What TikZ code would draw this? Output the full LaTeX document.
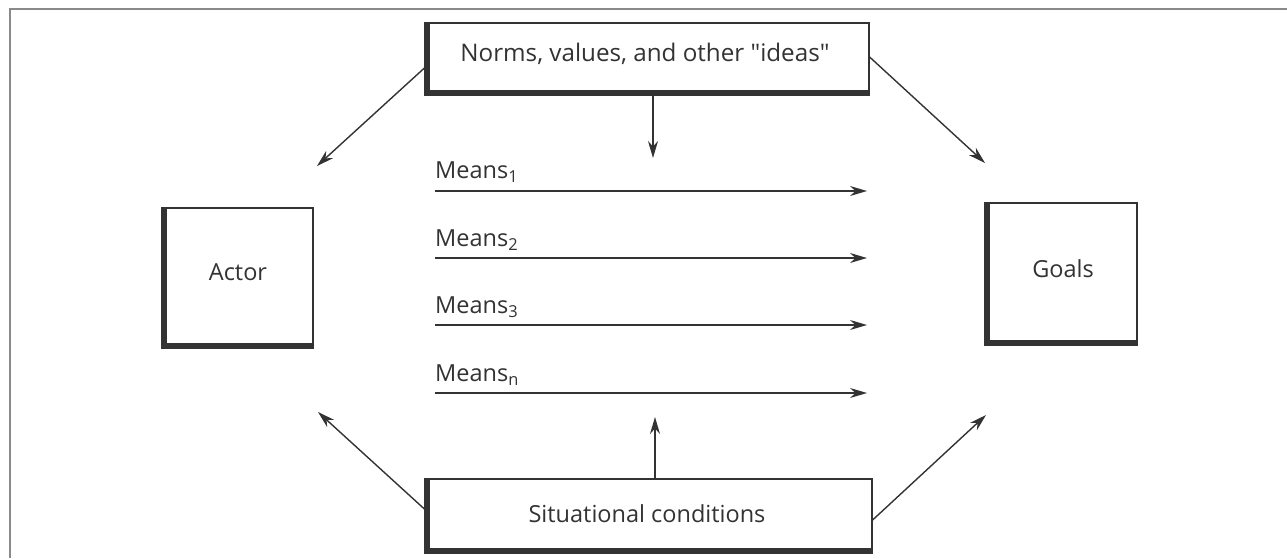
\documentclass[tikz,border=0pt]{standalone}
\usepackage{fontspec}
\setmainfont{Open Sans}
\usetikzlibrary{arrows.meta}
\definecolor{ink}{HTML}{333333}
\definecolor{frame}{HTML}{8A8A8A}
\newcommand{\shbox}[1]{%
  \fill[ink] (#1.north west) rectangle ([xshift=5.5pt]#1.south west);
  \fill[ink] (#1.south west) rectangle ([yshift=6pt]#1.south east);}
\begin{document}
\begin{tikzpicture}[x=1pt,y=-1pt,
  box/.style={draw=ink, line width=1.2pt, fill=white, inner sep=0pt},
  conn/.style={draw=ink, line width=1.4pt},
  arr/.style={conn, -{Stealth[length=17pt,width=10pt]}},
  lbl/.style={font=\fontsize{23.5}{28}\selectfont, text=ink, inner sep=0pt},
]
\useasboundingbox (0,0) rectangle (1287,558);
% page frame
\draw[frame, line width=1.2pt] (1287,9) -- (10,9) -- (10,558);

% boxes
\node[box, minimum width=444pt, minimum height=72pt] (norms) at (647,59) {};
\shbox{norms}
\node[lbl, font=\fontsize{24.2}{29}\selectfont] (normsT) at (645,54) {Norms, values, and other \textquotedbl ideas\textquotedbl};

\node[box, minimum width=151pt, minimum height=140pt] (actor) at (237.5,278) {};
\shbox{actor}
\node[lbl] (actorT) at (238,272) {Actor};

\node[box, minimum width=152pt, minimum height=142pt] (goals) at (1061,274) {};
\shbox{goals}
\node[lbl] (goalsT) at (1063,269) {Goals};

\node[box, minimum width=447pt, minimum height=74pt] (sit) at (648.5,516) {};
\shbox{sit}
\node[lbl] (sitT) at (647,514) {Situational conditions};

% means
\foreach \i/\ly/\y/\s in {1/172/191/1, 2/240/258/2, 3/307/325/3, 4/375/393/n}{
  \node[lbl, anchor=west] (ml\i) at (435,\ly) {Means\textsubscript{\s}};
  \coordinate (ms\i) at (435,\y);
  \coordinate (me\i) at (867,\y);
  \draw[arr] (ms\i) -- (me\i);
}

% vertical arrows
\coordinate (dn) at (653,158);
\draw[arr] (norms.south -| dn) -- (dn);
\coordinate (up) at (655,417);
\draw[arr] (sit.north -| up) -- (up);

% diagonal arrows
\coordinate (aTop) at (317,166);
\coordinate (gTop) at (985,163);
\coordinate (aBot) at (318,412);
\coordinate (gBot) at (986,415);
\draw[arr] ([yshift=-9pt]norms.west) -- (aTop);
\draw[arr] ([yshift=2pt]norms.east) -- (gTop);
\draw[arr] ([yshift=7pt]sit.west) -- (aBot);
\draw[arr] ([yshift=-4pt]sit.east) -- (gBot);
\end{tikzpicture}
\end{document}
